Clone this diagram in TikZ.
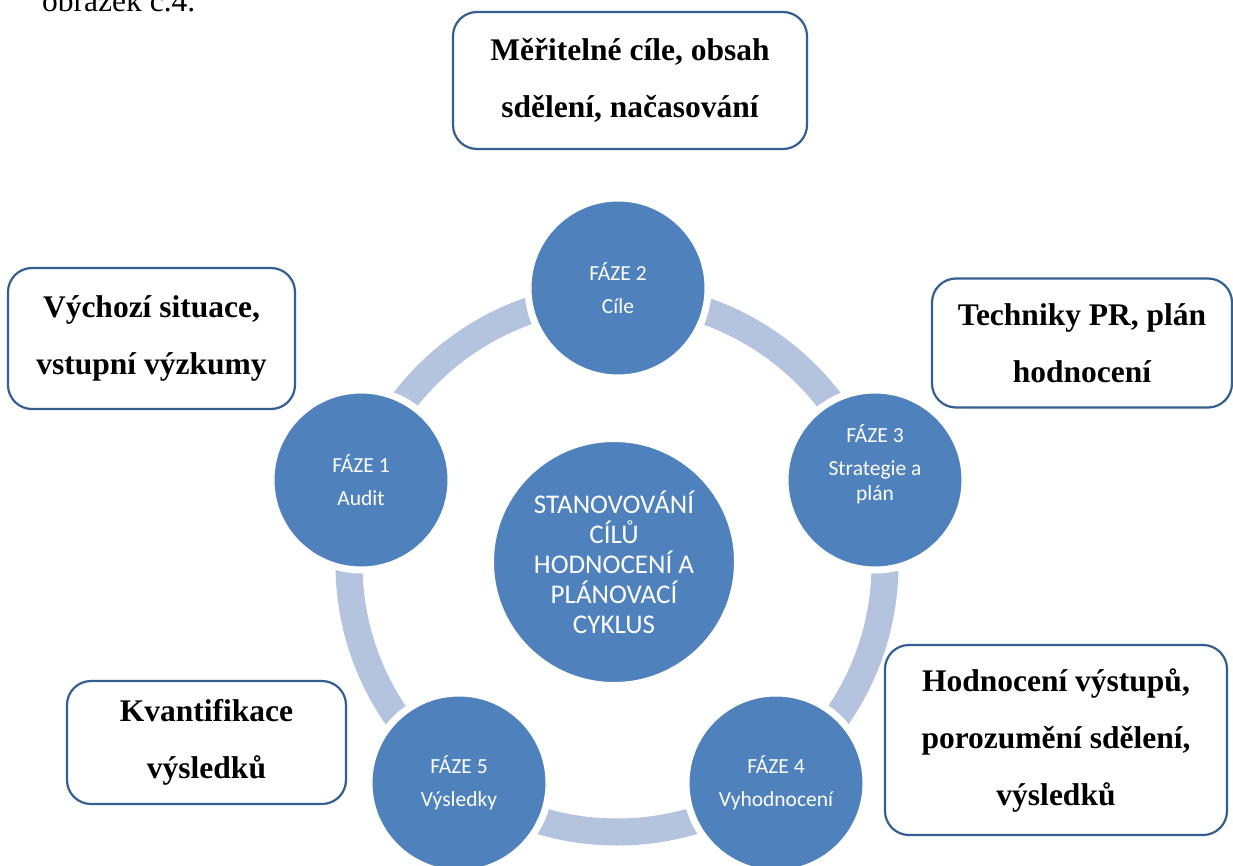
\documentclass[tikz,border=0pt]{standalone}
\usepackage{fontspec}
\setmainfont{Liberation Serif}
\newfontfamily\calib{Carlito}
\definecolor{phasefill}{HTML}{4F81BD}
\definecolor{ringcol}{HTML}{B4C3DE}
\definecolor{noteborder}{HTML}{365F91}
\begin{document}
\begin{tikzpicture}[x=1pt,y=-1pt,
  phase/.style={circle, fill=phasefill, draw=white, line width=7pt, minimum size=180pt, inner sep=0pt, text=white, align=center, font=\calib\fontsize{21.5}{25}\selectfont},
  phasetext/.style={inner sep=0pt, text=white, align=center, font=\calib\fontsize{21.5}{25}\selectfont},
  hub/.style={circle, fill=phasefill, draw=white, line width=4pt, minimum size=244pt, inner sep=0pt, text=white, align=center, font=\calib\fontsize{27}{30}\selectfont},
  note/.style={draw=noteborder, line width=2.2pt, rounded corners=24pt, fill=white, align=center, inner sep=0pt, font=\bfseries\fontsize{31.5}{57}\selectfont},
  ring/.style={draw=ringcol, line width=27pt}]
\clip (0,0) rectangle (1233,866);
\fill[white] (0,0) rectangle (1233,866);
\node[anchor=base west, inner sep=0pt, font=\fontsize{31.5}{32}\selectfont] (cap) at (42,12) {obrázek č.4.};
\draw[ring] (617,564) circle (268);
\node[hub] (hub) at (614,562) {STANOVOVÁNÍ\\CÍLŮ\\HODNOCENÍ A\\PLÁNOVACÍ\\CYKLUS};
\node[phase] (p2) at (618,288) {FÁZE 2\\[8pt]Cíle};
\node[phase] (p1) at (361,480) {FÁZE 1\\[8pt]Audit};
\node[phase] (p3) at (875,480) {};
\node[phasetext] (p3t) at (875,464) {FÁZE 3\\[8pt]Strategie a\\plán};
\node[phase] (p4) at (776,783) {FÁZE 4\\[8pt]Vyhodnocení};
\node[phase] (p5) at (459,783) {FÁZE 5\\[8pt]Výsledky};
\node[note, minimum width=354pt, minimum height=137pt] (n2) at (630,80.5) {Měřitelné cíle, obsah\\sdělení, načasování};
\node[note, minimum width=287pt, minimum height=141pt] (n1) at (151.5,338.5) {Výchozí situace,\\vstupní výzkumy};
\node[note, minimum width=300pt, minimum height=129pt] (n3) at (1082,343) {Techniky PR, plán\\hodnocení};
\node[note, minimum width=279pt, minimum height=123pt] (n5) at (206.5,742.5) {Kvantifikace\\výsledků};
\node[note, minimum width=342pt, minimum height=190pt] (n4) at (1056,740) {Hodnocení výstupů,\\porozumění sdělení,\\výsledků};
\end{tikzpicture}
\end{document}
